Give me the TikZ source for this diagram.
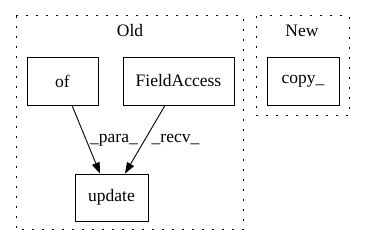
\documentclass[tikz,border=0pt]{standalone}
\usepackage{fontspec}
\setmainfont{Liberation Serif}
\usetikzlibrary{arrows.meta}
\begin{document}
\begin{tikzpicture}[x=1pt,y=-1pt,
  cluster/.style={draw, line width=1pt, dash pattern=on 1.6pt off 8.4pt},
  box/.style={draw, line width=0.9pt, inner sep=0pt, font=\fontsize{17.5}{20}\selectfont},
  lbl/.style={font=\fontsize{17.5}{20}\selectfont},
  edge/.style={line width=0.9pt, -{Triangle[length=11pt,width=8pt]}}]
\useasboundingbox (0,0) rectangle (365,248);
% clusters
\draw[cluster] (16,16) rectangle (243,230);
\node[lbl] (oldtitle) at (130,31) {Old};
\draw[cluster] (256,16) rectangle (349,116);
\node[lbl] (newtitle) at (302,31) {New};
% nodes
\node[box, minimum width=71pt, minimum height=48pt] (of) at (62.5,81) {of};
\node[box, minimum width=111pt, minimum height=48pt] (fa) at (178.5,81) {FieldAccess};
\node[box, minimum width=73pt, minimum height=47pt] (upd) at (111.5,197.5) {update};
\node[box, minimum width=72pt, minimum height=48pt] (copy) at (303,81) {copy\_};
% edges
\draw[edge] (of.south -| 72,0) -- (upd.north -| 100,0);
\draw[edge] (fa.south -| 165,0) -- (upd.north -| 125,0);
\node[lbl] (para) at (114,140) {\_para\_};
\node[lbl] (recv) at (175.5,140) {\_recv\_};
\end{tikzpicture}
\end{document}
